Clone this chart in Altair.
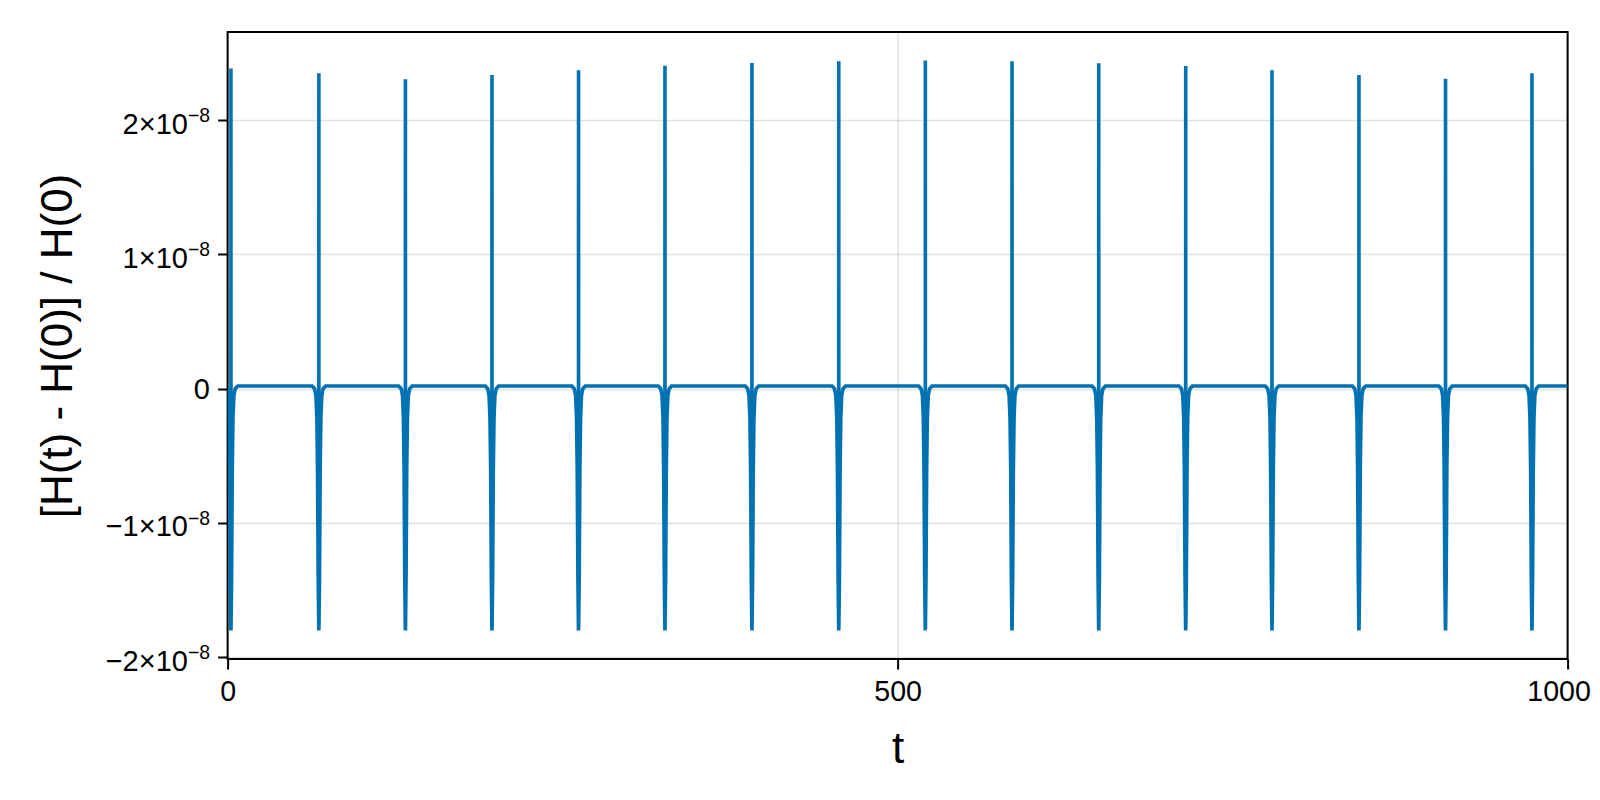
import altair as alt
import pandas as pd

# spike centres (t)
spike_t = [2.5, 68.1, 132.7, 197.3, 261.9, 326.4, 391.3, 456.1,
           520.7, 585.4, 650.1, 715.0, 779.4, 844.3, 908.9, 973.4]
# positive spike tops, in units of 1e-8
spike_peak = [2.384, 2.349, 2.305, 2.335, 2.372, 2.404, 2.426, 2.439,
              2.444, 2.439, 2.424, 2.402, 2.372, 2.335, 2.307, 2.349]
# negative troughs, in units of 1e-8
trough_left = [-1.80, -1.80, -1.80, -1.80, -1.80, -1.80, -1.79, -1.80,
               -1.80, -1.80, -1.79, -1.80, -1.80, -1.80, -1.80, -1.80]
trough_right = [-1.79, -1.79, -1.80, -1.79, -1.79, -1.79, -1.80, -1.79,
                -1.79, -1.79, -1.80, -1.79, -1.80, -1.79, -1.79, -1.79]
# cusp shape around each spike (offset in t, value in 1e-8)
cusp_dt = [-5.0, -3.2, -2.2, -1.5, -1.0, -0.5]
cusp_v = [0.02, 0.0, -0.05, -0.22, -0.6, -1.4]
baseline = 0.02
t_start, t_end = 0.0, 1000.0
start_value = 0.0

# y tick labels (value in units of 1e-8, mantissa text, exponent text)
ytick_vals = [-2, -1, 0, 1, 2]
ytick_mant = ["\u22122\u00d710", "\u22121\u00d710", "0", "1\u00d710", "2\u00d710"]
ytick_exp = ["\u22128", "\u22128", "", "\u22128", "\u22128"]
xtick_vals = [0, 500, 1000]

rows = [(t_start, start_value)]
for t0, pk, tl, tr in zip(spike_t, spike_peak, trough_left, trough_right):
    for dt, v in zip(cusp_dt, cusp_v):
        if t0 + dt > t_start:
            rows.append((t0 + dt, v))
    rows.append((t0 - 0.05, tl))
    rows.append((t0, pk))
    rows.append((t0 + 0.05, tr))
    for dt, v in zip(reversed(cusp_dt), reversed(cusp_v)):
        rows.append((t0 - dt, v))
rows.append((t_end, baseline))

df = pd.DataFrame(rows, columns=["t", "v"])
df["v"] = df["v"] * 1e-8

ticks_df = pd.DataFrame({"v": [v * 1e-8 for v in ytick_vals],
                         "mant": ytick_mant, "exp": ytick_exp})

FONT = "Liberation Sans"
TICK_FS = 29
X_TICK_FS = 28.6
SUP_FS = 19.4
LABEL_RIGHT = -17.6          # right edge of y tick labels, px from plot left
SUP_W = 22.1                 # width of the superscript "−8"

yscale = alt.Scale(domain=[-2.013e-8, 2.656e-8], nice=False, zero=False)

line = alt.Chart(df).mark_line(
    color="#0072B2", strokeWidth=3.6, clip=True
).encode(
    x=alt.X("t:Q", scale=alt.Scale(domain=[0, 1000], nice=False, zero=False),
            axis=alt.Axis(values=xtick_vals, format="d", title="t",
                          labelFlush=False, labelOverlap=False, labelBound=False,
                          labelFontSize=X_TICK_FS, labelPadding=9,
                          labelOffset={"condition": {"test": "datum.value == 1000", "value": -9},
                                       "value": 0},
                          titleBaseline="alphabetic", titleY=104)),
    y=alt.Y("v:Q", scale=yscale,
            axis=alt.Axis(values=[v * 1e-8 for v in ytick_vals], labels=False,
                          title="[H(t) - H(0)] / H(0)",
                          titleAngle=-90, titleBaseline="middle",
                          titleAlign="center", titleX=-168.6, titleY=313.5)),
)

base_txt = alt.Chart(ticks_df)

mant = base_txt.transform_filter("datum.exp != ''").mark_text(
    align="right", baseline="alphabetic", font=FONT, fontSize=TICK_FS,
    color="black", dy=13.5
).encode(
    x=alt.value(LABEL_RIGHT - SUP_W),
    y=alt.Y("v:Q", scale=yscale),
    text="mant:N",
)

sup = base_txt.transform_filter("datum.exp != ''").mark_text(
    align="right", baseline="alphabetic", font=FONT, fontSize=SUP_FS,
    color="black", dy=1.9
).encode(
    x=alt.value(LABEL_RIGHT),
    y=alt.Y("v:Q", scale=yscale),
    text="exp:N",
)

zero = base_txt.transform_filter("datum.exp == ''").mark_text(
    align="right", baseline="alphabetic", font=FONT, fontSize=TICK_FS,
    color="black", dy=10.4
).encode(
    x=alt.value(LABEL_RIGHT),
    y=alt.Y("v:Q", scale=yscale),
    text="mant:N",
)

chart = alt.layer(line, mant, sup, zero).properties(
    width=1340, height=627,
    background="white",
    autosize=alt.AutoSizeParams(type="none"),
    padding={"left": 219.6, "top": 24, "right": 24, "bottom": 125},
).configure_view(
    stroke="black", strokeWidth=2
).configure_axis(
    domain=False,
    grid=True, gridColor="#000000", gridOpacity=0.12, gridWidth=1.5,
    ticks=True, tickColor="black", tickSize=10, tickWidth=2,
    labelFont=FONT, labelColor="black",
    titleFont=FONT, titleFontSize=44, titleFontWeight="normal", titleColor="black",
)

chart.save("out.html", embed_options={"renderer": "svg", "actions": False})
